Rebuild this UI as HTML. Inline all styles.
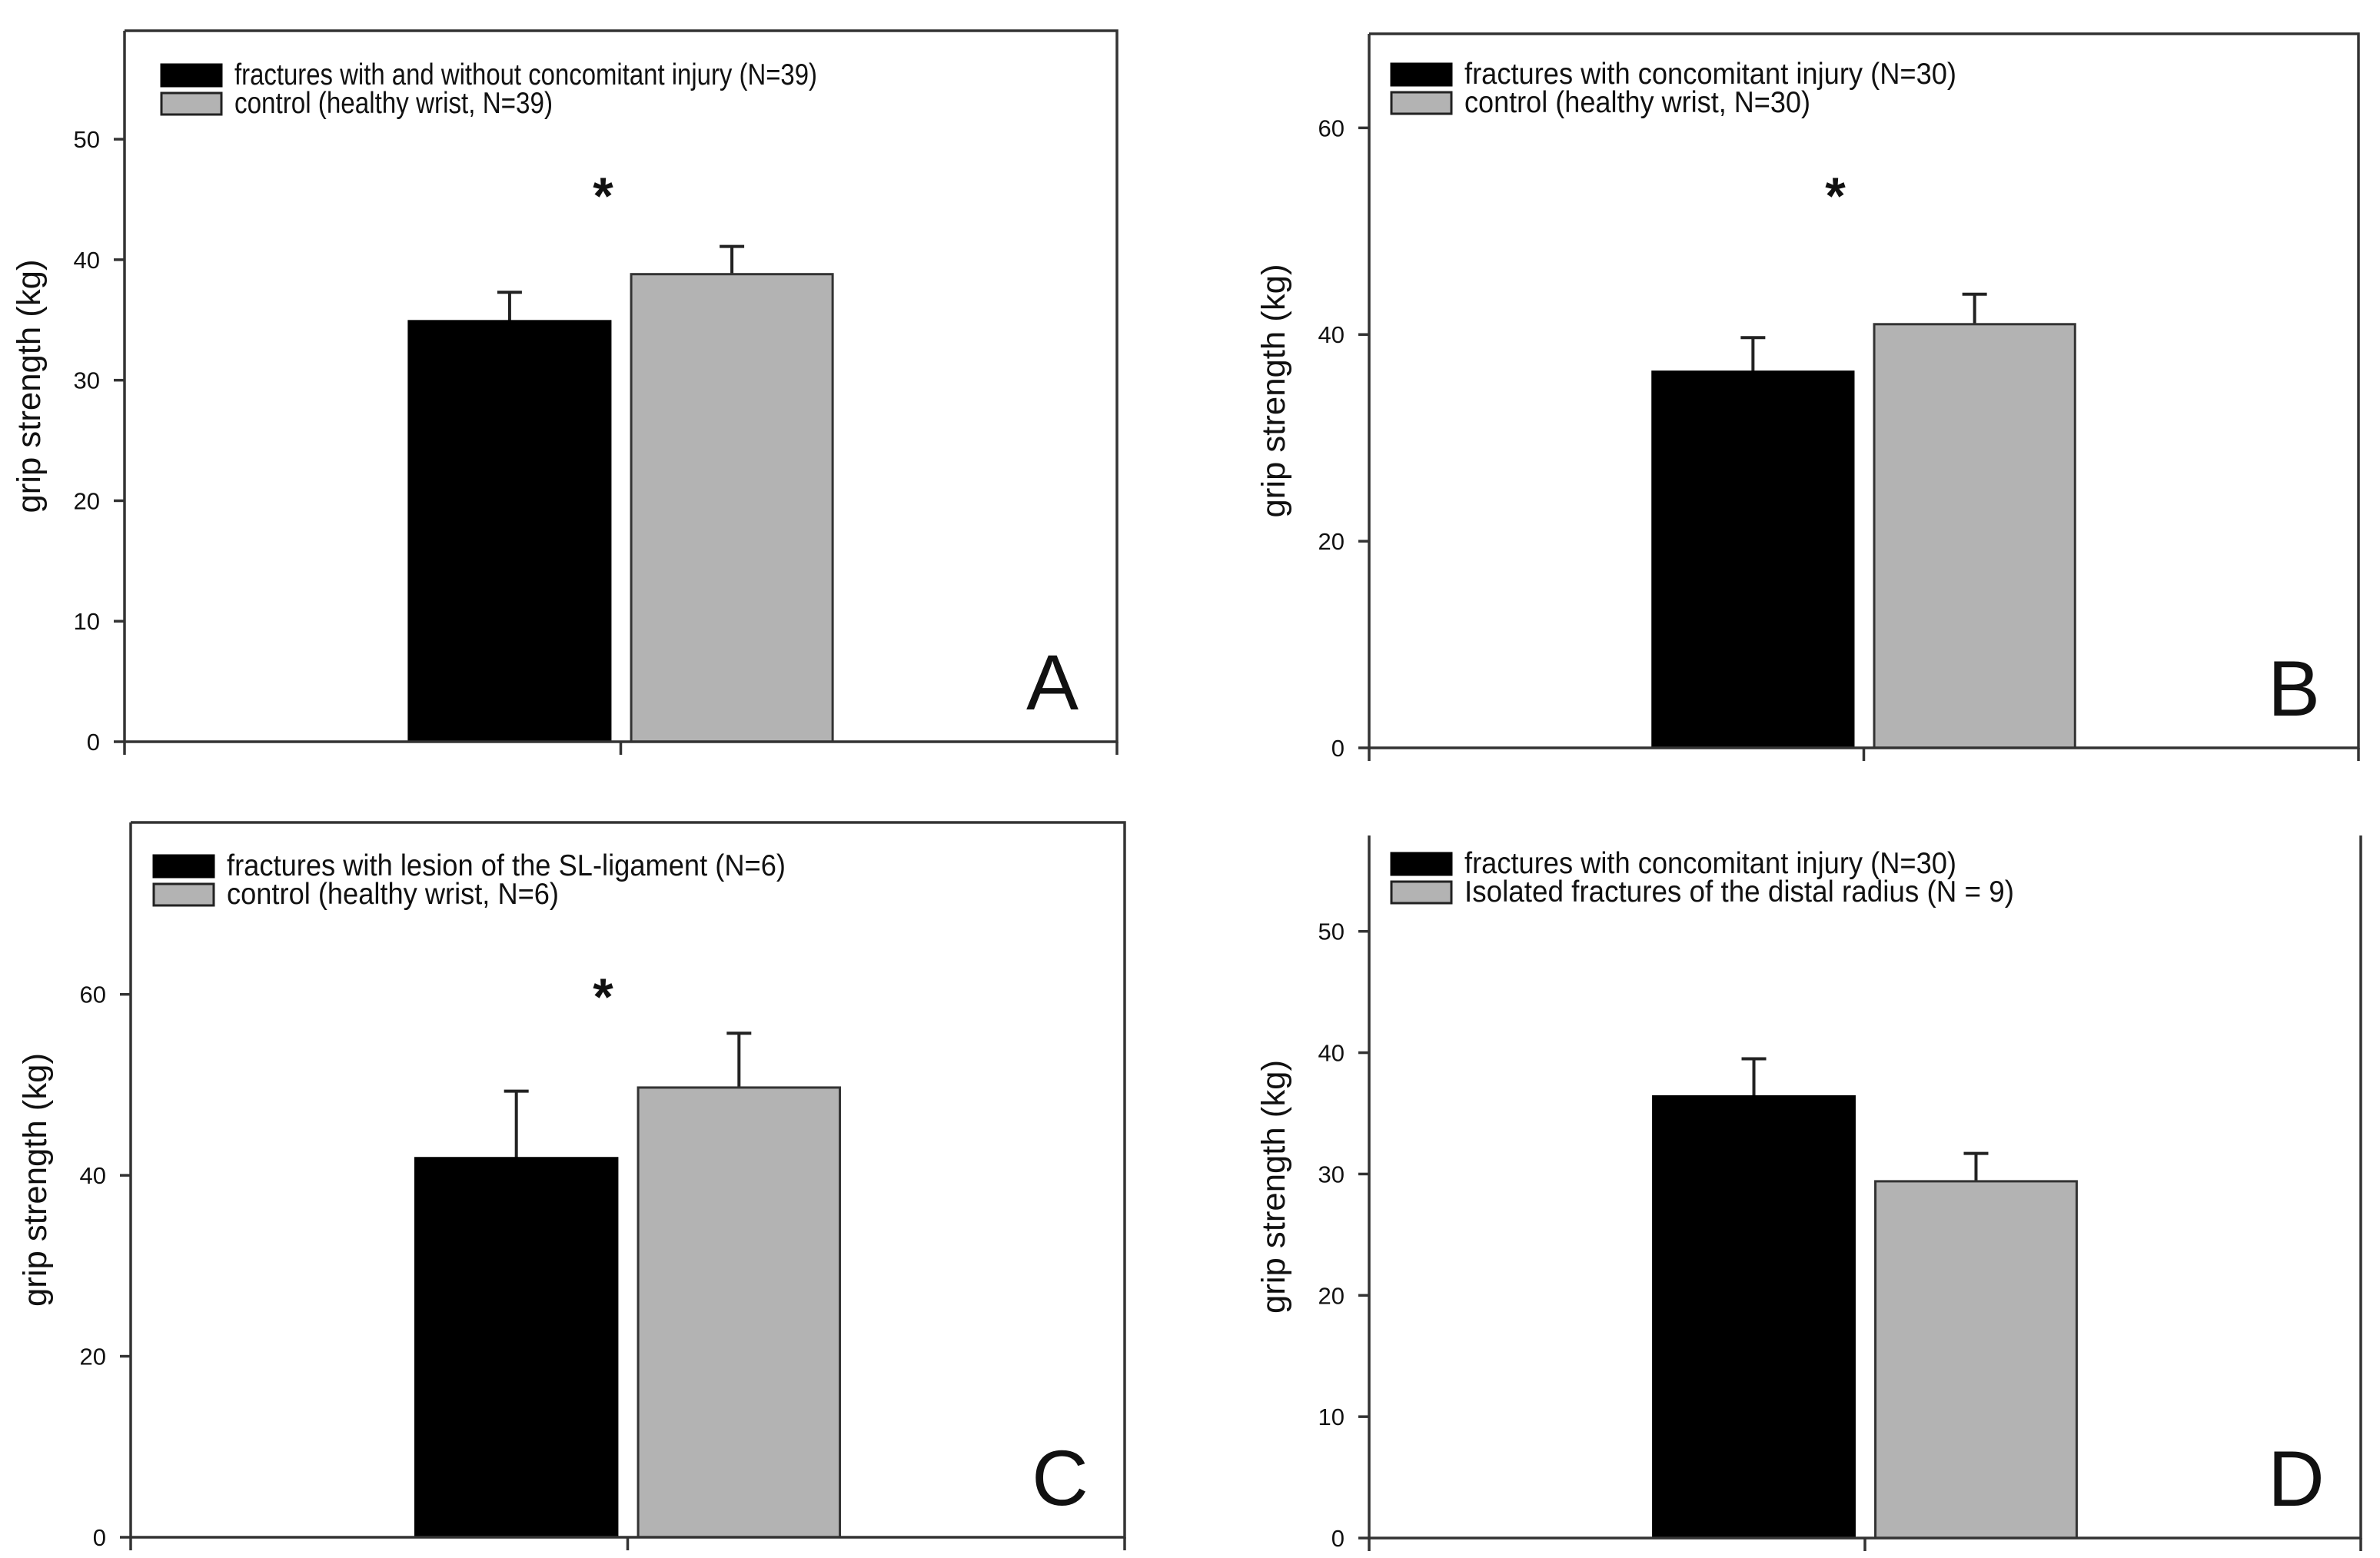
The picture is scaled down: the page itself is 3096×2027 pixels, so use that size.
<!DOCTYPE html>
<html><head><meta charset="utf-8">
<style>
html,body{margin:0;padding:0;background:#fff;}
svg{display:block;}
text{font-family:"Liberation Sans",Arial,sans-serif;fill:#111;}
</style></head>
<body>
<svg id="fig" width="3096" height="2027" viewBox="0 0 3096 2027" xmlns="http://www.w3.org/2000/svg"></svg>
<script>
// ---- data ----
const panelIds = ["A","B","C","D"];
const barValuesA = [34.9, 38.8];
const errValuesA = [2.4, 2.3];
const barValuesB = [36.4, 41.0];
const errValuesB = [3.3, 2.9];
const barValuesC = [41.9, 49.7];
const errValuesC = [7.4, 6.0];
const barValuesD = [36.4, 29.4];
const errValuesD = [3.1, 2.3];
const legendA = ["fractures with and without concomitant injury (N=39)", "control (healthy wrist, N=39)"];
const legendB = ["fractures with concomitant injury (N=30)", "control (healthy wrist, N=30)"];
const legendC = ["fractures with lesion of the SL-ligament (N=6)", "control (healthy wrist, N=6)"];
const legendD = ["fractures with concomitant injury (N=30)", "Isolated fractures of the distal radius (N = 9)"];
const ticksA = [0,10,20,30,40,50];
const ticksB = [0,20,40,60];
const ticksC = [0,20,40,60];
const ticksD = [0,10,20,30,40,50];
const yMaxA = 59, yMaxB = 69.1, yMaxC = 79, yMaxD = 57.9;
const significantA = true, significantB = true, significantC = true, significantD = false;

// ---- layout ----
const layouts = {
  A:{l:162,r:1453,t:40,b:965,top:true,legX:210,legY:84,textW:[758,414],starY:250,starDx:-23},
  B:{l:1781,r:3068,t:44,b:973,top:true,legX:1810,legY:83,textW:[640,450],starY:250,starDx:-37},
  C:{l:170,r:1463,t:1070,b:2000,top:true,legX:200,legY:1113,textW:[727,432],starY:1292,starDx:-32},
  D:{l:1781,r:3071,t:1087,b:2001,top:false,legX:1810,legY:1110,textW:[640,715],starY:0,starDx:0}
};
const data = {
  A:{v:barValuesA,e:errValuesA,leg:legendA,ticks:ticksA,ymax:yMaxA,sig:significantA},
  B:{v:barValuesB,e:errValuesB,leg:legendB,ticks:ticksB,ymax:yMaxB,sig:significantB},
  C:{v:barValuesC,e:errValuesC,leg:legendC,ticks:ticksC,ymax:yMaxC,sig:significantC},
  D:{v:barValuesD,e:errValuesD,leg:legendD,ticks:ticksD,ymax:yMaxD,sig:significantD}
};
const NS = "http://www.w3.org/2000/svg";
const svg = document.getElementById("fig");
function mk(tag, attrs, parent){
  const el = document.createElementNS(NS, tag);
  for (const k in attrs) el.setAttribute(k, attrs[k]);
  (parent||svg).appendChild(el);
  return el;
}
const fills = ["#000000","#b3b3b3"];
panelIds.forEach(id=>{
  const L = layouts[id], D = data[id];
  const g = mk("g",{});
  
  
  const y = v => L.b - v/D.ymax*(L.b-L.t);
  const w = L.r-L.l, mid = (L.l+L.r)/2;
  const bw = w*0.203, gap = w*0.021;
  const xs = [mid-gap/2-bw, mid+gap/2];
  D.v.forEach((v,i)=>{
    const top = y(v);
    const eb = mk("line",{x1:xs[i]+bw/2,x2:xs[i]+bw/2,y1:top,y2:y(v+D.e[i]),stroke:"#222","stroke-width":4},g);
    
    
    const cap = mk("line",{x1:xs[i]+bw/2-16,x2:xs[i]+bw/2+16,y1:y(v+D.e[i]),y2:y(v+D.e[i]),stroke:"#222","stroke-width":4},g);
    
    
    const r = mk("rect",{x:xs[i],y:top,width:bw,height:L.b-top,fill:fills[i],stroke:i?"#333":"#000","stroke-width":3},g);
    
    
  });
  const ax = mk("path",{d:`M${L.l} ${L.t}V${L.b}H${L.r}V${L.t}`+(L.top?`H${L.l}`:""),fill:"none",stroke:"#333","stroke-width":3.5},g);
  
  
  [L.l,mid,L.r].forEach(x=>{
    const t = mk("line",{x1:x,x2:x,y1:L.b,y2:L.b+17,stroke:"#333","stroke-width":3.5},g);
    
    
  });
  D.ticks.forEach(tv=>{
    const t = mk("line",{x1:L.l-14,x2:L.l,y1:y(tv),y2:y(tv),stroke:"#333","stroke-width":3.5},g);
    
    
    const tl = mk("text",{x:L.l-32,y:y(tv)+11,"text-anchor":"end","font-size":31},g);
    tl.textContent = tv;
    
    
  });
  const yt = mk("text",{transform:`translate(${L.l-110},${(L.t+L.b)/2}) rotate(-90)`,"text-anchor":"middle","font-size":43,textLength:330,lengthAdjust:"spacingAndGlyphs"},g);
  yt.textContent = "grip strength (kg)";
  
  
  D.leg.forEach((s,i)=>{
    const by = L.legY + i*37;
    const sw = mk("rect",{x:L.legX,y:by,width:78,height:28,fill:fills[i],stroke:i?"#222":"#000","stroke-width":3},g);
    
    
    const lt = mk("text",{x:L.legX+95,y:by+26,"font-size":39,textLength:L.textW[i],lengthAdjust:"spacingAndGlyphs"},g);
    lt.textContent = s;
    
    
  });
  if (D.sig){
    const st = mk("text",{x:mid+L.starDx,y:L.starY+28,"text-anchor":"middle","font-size":68,"font-weight":"bold"},g);
    st.textContent = "*";
    
    
  }
  const pl = mk("text",{x:L.r-84,y:L.b-42,"text-anchor":"middle","font-size":102},g);
  pl.textContent = id;
  
  
});
</script>
</body></html>
